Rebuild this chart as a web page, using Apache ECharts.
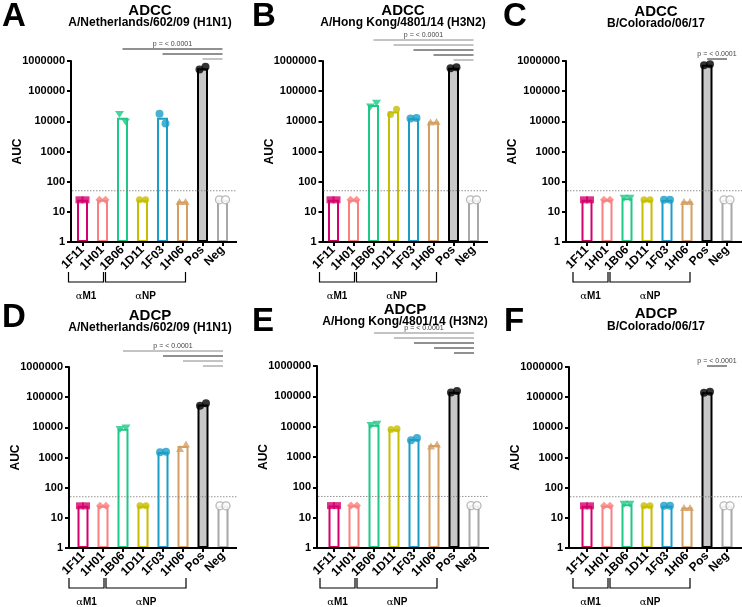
<!DOCTYPE html>
<html>
<head>
<meta charset="utf-8">
<script src="https://cdn.jsdelivr.net/npm/echarts@6/dist/echarts.min.js"></script>
<style>
html,body{margin:0;padding:0;background:#fff;}
#chart{width:742px;height:607px;}
</style>
</head>
<body>
<div id="chart"></div>
<script>
// ---------- DATA ----------
const categories = ['1F11', '1H01', '1B06', '1D11', '1F03', '1H06', 'Pos', 'Neg'];
const panelLetters = ['A', 'B', 'C', 'D', 'E', 'F'];
const assayTitles = ['ADCC', 'ADCC', 'ADCC', 'ADCP', 'ADCP', 'ADCP'];
const strainTitles = ['A/Netherlands/602/09 (H1N1)', 'A/Hong Kong/4801/14 (H3N2)', 'B/Colorado/06/17',
                      'A/Netherlands/602/09 (H1N1)', 'A/Hong Kong/4801/14 (H3N2)', 'B/Colorado/06/17'];
const yTickValues = [1, 10, 100, 1000, 10000, 100000, 1000000];
const yAxisName = 'AUC';
const pText = 'p = < 0.0001';
const lodValue = 50;
const groupPrefix = 'α';
const groupNames = ['M1', 'NP'];

// two replicates per category
const adccH1N1 = [[25, 25], [25, 25], [17000, 9500], [25, 25], [18000, 8500], [22, 22], [520000, 640000], [25, 25]];
const adccH3N2 = [[25, 25], [25, 25], [30000, 40000], [17000, 25000], [12500, 13000], [9500, 9800], [580000, 620000], [25, 25]];
const adccBCol = [[25, 25], [25, 25], [28, 28], [25, 25], [25, 25], [22, 22], [720000, 780000], [25, 25]];
const adcpH1N1 = [[25, 25], [25, 25], [8500, 9500], [25, 25], [1500, 1550], [2000, 2800], [52000, 63000], [25, 25]];
const adcpH3N2 = [[25, 25], [25, 25], [11000, 12000], [8000, 8500], [3600, 4200], [2300, 2700], [135000, 150000], [25, 25]];
const adcpBCol = [[25, 25], [25, 25], [28, 28], [25, 25], [25, 25], [22, 22], [140000, 150000], [25, 25]];
const panelData = [adccH1N1, adccH3N2, adccBCol, adcpH1N1, adcpH3N2, adcpBCol];

// significance comparisons: [fromCategory, toCategory, dark?]
const sigA = [[2, 7, 1], [4, 7, 1], [6, 7, 0]];
const sigB = [[2, 7, 0], [3, 7, 0], [4, 7, 1], [5, 7, 1], [6, 7, 0]];
const sigC = [[6, 7, 1]];
const sigD = [[2, 7, 0], [4, 7, 1], [5, 7, 0], [6, 7, 0]];
const sigE = [[2, 7, 0], [3, 7, 0], [4, 7, 1], [5, 7, 1], [6, 7, 1]];
const sigF = [[6, 7, 1]];
const panelSig = [sigA, sigB, sigC, sigD, sigE, sigF];

// ---------- STYLE / LAYOUT ----------
const catColors = ['#d4006c', '#fa8080', '#1ec887', '#c6be00', '#1a9dc6', '#d39f62', '#000000', '#a8a8a8'];
const symbols = ['rect', 'diamond', 'triangle', 'circle', 'circle', 'triangle', 'circle', 'circle'];
const symRot = [0, 0, 180, 0, 0, 0, 0, 0];
const symSize = [[8, 7], [8, 8], [9, 7], [7, 7], [8, 8], [8, 7], [8, 8], [8, 8]];
const groupSpans = [[-0.7, 1.05], [1.15, 5.15]];
const FONT = '"Liberation Sans", Arial, Helvetica, sans-serif';

const layout = [
  { axisLeft: 71, firstCenter: 82.5, top: 61, bottom: 242, axisEnd: 237, sigGap: 2, cx: 150, titleY: 3, subY: 17, letterX: 2, letterY: 0 },
  { axisLeft: 322.5, firstCenter: 333.5, top: 61, bottom: 242, axisEnd: 488, sigGap: 1, cx: 403, titleY: 3, subY: 17, letterX: 252, letterY: 0 },
  { axisLeft: 566, firstCenter: 587, top: 61, bottom: 242, axisEnd: 746, sigGap: 2, cx: 656, titleY: 4, subY: 18, letterX: 503, letterY: 0 },
  { axisLeft: 69, firstCenter: 83, top: 367, bottom: 548, axisEnd: 237, sigGap: 1, cx: 150, titleY: 308, subY: 322, letterX: 2, letterY: 301 },
  { axisLeft: 317, firstCenter: 334, top: 366, bottom: 548, axisEnd: 489, sigGap: 13, cx: 405, titleY: 302, subY: 316, letterX: 252, letterY: 305 },
  { axisLeft: 569, firstCenter: 587, top: 367, bottom: 548, axisEnd: 746, sigGap: 1, cx: 656, titleY: 306, subY: 321, letterX: 504, letterY: 305 }
];

const grids = [], xAxes = [], yAxes = [], series = [], titles = [];

function fmt(v) { return String(Math.round(v)); }

layout.forEach((L, i) => {
  const gridLeft = L.firstCenter - 10;
  grids.push({ left: gridLeft, top: L.top, width: 160, height: L.bottom - L.top, containLabel: false });
  xAxes.push({
    type: 'category', gridIndex: i, data: categories,
    axisLine: { show: false },
    axisTick: { show: true, alignWithLabel: true, length: 4, lineStyle: { color: '#000', width: 2 } },
    axisLabel: { rotate: 45, interval: 0, margin: 6, color: '#000', fontWeight: 'bold', fontSize: 12, fontFamily: FONT },
    splitLine: { show: false }
  });
  yAxes.push({
    type: 'log', logBase: 10, min: 1, max: 1000000, gridIndex: i,
    offset: gridLeft - L.axisLeft,
    name: yAxisName, nameLocation: 'middle', nameGap: 47, nameMoveOverlap: false,
    nameTextStyle: { color: '#000', fontWeight: 'bold', fontSize: 12, fontFamily: FONT },
    axisLine: { show: true, lineStyle: { color: '#000', width: 2 } },
    axisTick: { show: true, length: 4, lineStyle: { color: '#000', width: 2 } },
    minorTick: { show: false },
    splitLine: { show: false },
    axisLabel: { margin: 6, color: '#000', fontWeight: 'bold', fontSize: 11, fontFamily: FONT, formatter: fmt,
                 showMinLabel: true, showMaxLabel: true }
  });

  const data = panelData[i];
  // bars (mean of replicates)
  series.push({
    type: 'bar', xAxisIndex: i, yAxisIndex: i, barWidth: 11, z: 2,
    data: data.map((reps, c) => ({
      value: reps.reduce((a, b) => a + b, 0) / reps.length,
      itemStyle: {
        color: c === 6 ? '#c8c8c8' : '#ffffff',
        borderColor: catColors[c], borderWidth: 2
      }
    }))
  });
  // replicate points
  const pts = [];
  data.forEach((reps, c) => {
    reps.forEach((v, r) => {
      pts.push({
        value: [c, v],
        symbol: symbols[c], symbolRotate: symRot[c], symbolSize: symSize[c],
        symbolOffset: [r === 0 ? -3 : 3, 0],
        itemStyle: c === 7
          ? { color: '#ffffff', borderColor: catColors[c], borderWidth: 1.3 }
          : { color: catColors[c], borderWidth: 0 }
      });
    });
  });
  series.push({ type: 'scatter', xAxisIndex: i, yAxisIndex: i, z: 4, data: pts, silent: true });

  // decorations: x-axis line, LOD line, significance bars, group brackets
  series.push({
    type: 'custom', xAxisIndex: i, yAxisIndex: i, z: 5, clip: false, silent: true,
    data: [[0, 1]],
    renderItem: function (params, api) {
      const cs = params.coordSys;
      const x0 = api.coord([0, 1])[0];
      const step = api.size([1, 1])[0];
      const X = f => x0 + f * step;
      const yb = api.coord([0, 1])[1];
      const yl = api.coord([0, lodValue])[1];
      const ch = [];
      ch.push({ type: 'line', shape: { x1: L.axisLeft - 1, y1: yb, x2: L.axisEnd, y2: yb }, style: { stroke: '#000', lineWidth: 2 } });
      ch.push({ type: 'line', shape: { x1: L.axisLeft + 1, y1: yl, x2: L.axisEnd, y2: yl }, style: { stroke: '#777', lineWidth: 0.8, lineDash: [1.5, 1.5] } });
      const sig = panelSig[i];
      const n = sig.length;
      let topY = 0, topMid = 0;
      sig.forEach((s, k) => {
        const y = cs.y - L.sigGap - (n - 1 - k) * 5;
        if (k === 0) { topY = y; topMid = (X(s[0]) + X(s[1])) / 2; }
        ch.push({ type: 'line', shape: { x1: X(s[0]), y1: y, x2: X(s[1]), y2: y }, style: { stroke: s[2] ? '#222' : '#888', lineWidth: 1 } });
      });
      ch.push({ type: 'text', style: { text: pText, x: topMid, y: topY - 1, align: 'center', verticalAlign: 'bottom', fill: '#444', fontSize: 7, fontFamily: FONT } });
      groupSpans.forEach((g, k) => {
        const a = X(g[0]), b = X(g[1]);
        ch.push({ type: 'polyline', shape: { points: [[a, yb + 30], [a, yb + 40], [b, yb + 40], [b, yb + 30]] }, style: { stroke: '#000', lineWidth: 1.2, fill: null } });
        ch.push({ type: 'text', style: {
          text: '{g|' + groupPrefix + '}{n|' + groupNames[k] + '}', x: (a + b) / 2, y: yb + 54,
          align: 'center', verticalAlign: 'middle',
          rich: { g: { fontFamily: '"DejaVu Serif", "Liberation Serif", serif', fontSize: 10, fill: '#000' },
                  n: { fontFamily: FONT, fontWeight: 'bold', fontSize: 10, fill: '#000' } }
        } });
      });
      return { type: 'group', children: ch };
    }
  });

  titles.push({ text: panelLetters[i], left: L.letterX, top: L.letterY, textStyle: { fontSize: 33, fontWeight: 'bold', color: '#000', fontFamily: FONT }, padding: 0 });
  titles.push({ text: assayTitles[i], left: L.cx, top: L.titleY, textAlign: 'center', textStyle: { fontSize: 15, fontWeight: 'bold', color: '#000', fontFamily: FONT }, padding: 0 });
  titles.push({ text: strainTitles[i], left: L.cx, top: L.subY, textAlign: 'center', textStyle: { fontSize: 12, fontWeight: 'bold', color: '#000', fontFamily: FONT }, padding: 0 });
});

const chart = echarts.init(document.getElementById('chart'), null, { renderer: 'canvas' });
chart.setOption({
  animation: false,
  backgroundColor: '#ffffff',
  title: titles,
  grid: grids,
  xAxis: xAxes,
  yAxis: yAxes,
  series: series
});
</script>
</body>
</html>
